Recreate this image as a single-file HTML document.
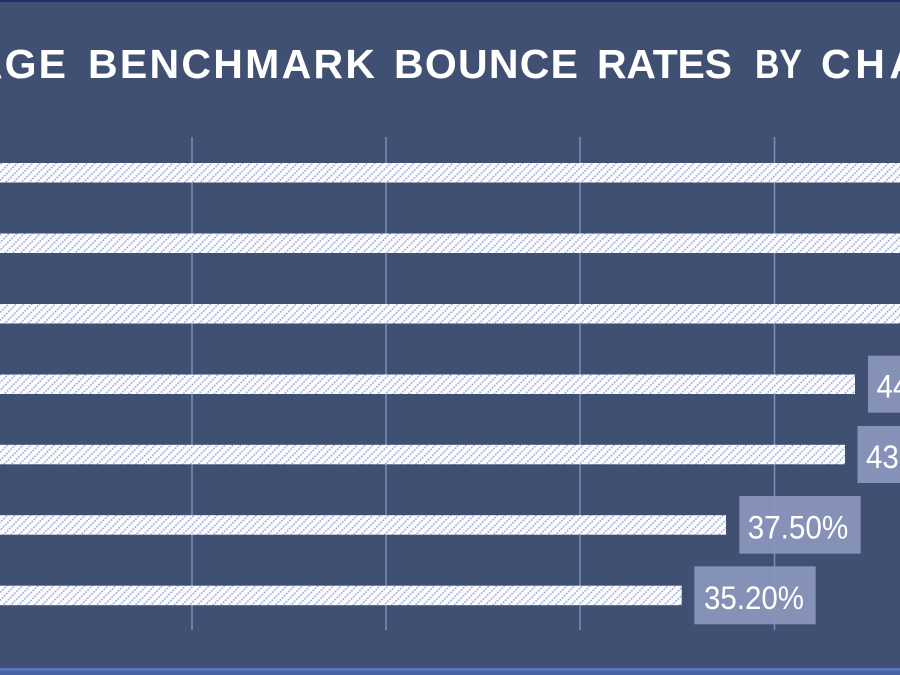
<!DOCTYPE html>
<html>
<head>
<meta charset="utf-8">
<style>
  html, body { margin:0; padding:0; background:#3f5073; }
  body { width:900px; height:675px; overflow:hidden; }
  svg { display:block; }
</style>
</head>
<body>
<svg width="900" height="675" viewBox="0 0 900 675" xmlns="http://www.w3.org/2000/svg">
  <defs>
    <pattern id="hatch" patternUnits="userSpaceOnUse" width="5.5" height="6" patternTransform="rotate(45)">
      <rect width="5.5" height="6" fill="#fbfcff"/>
      <line x1="1" y1="0" x2="1" y2="6" stroke="#9aa3cb" stroke-width="1.5" stroke-dasharray="1.8 1.2"/>
    </pattern>
  </defs>
  <rect x="0" y="0" width="900" height="675" fill="#3f5073"/>
  <rect x="0" y="0" width="900" height="2" fill="#1f2d68"/>
  <rect x="0" y="668" width="900" height="3" fill="#5a76b8"/>
  <rect x="0" y="671" width="900" height="4" fill="#4763a6"/>

  <!-- title -->
  <g font-family="'Liberation Sans', sans-serif" font-weight="bold" font-size="41" fill="#ffffff">
    <text x="-27" y="78" textLength="93" lengthAdjust="spacing">AGE</text>
    <text x="88" y="78" textLength="287" lengthAdjust="spacing">BENCHMARK</text>
    <text x="394" y="78" textLength="184" lengthAdjust="spacing">BOUNCE</text>
    <text x="597" y="78" textLength="135" lengthAdjust="spacing">RATES</text>
    <text x="755" y="78" textLength="47" lengthAdjust="spacingAndGlyphs">BY</text>
    <text x="821" y="78" textLength="98" lengthAdjust="spacing">CHA</text>
  </g>

  <!-- gridlines -->
  <g stroke="#7d8db4" stroke-width="1.5">
    <line x1="192" y1="137" x2="192" y2="630"/>
    <line x1="386" y1="137" x2="386" y2="630"/>
    <line x1="580" y1="137" x2="580" y2="630"/>
    <line x1="774.5" y1="137" x2="774.5" y2="630"/>
  </g>

  <!-- bars -->
  <g fill="url(#hatch)">
    <rect x="-5" y="163" width="920" height="19.5"/>
    <rect x="-5" y="233.5" width="920" height="19.5"/>
    <rect x="-5" y="304" width="920" height="19.5"/>
    <rect x="-5" y="374.5" width="860" height="19.5"/>
    <rect x="-5" y="444.8" width="850" height="19.5"/>
    <rect x="-5" y="515.2" width="731" height="19.5"/>
    <rect x="-5" y="585.7" width="686.7" height="19.5"/>
  </g>

  <!-- labels -->
  <g fill="#8995bb" fill-opacity="0.95">
    <rect x="868" y="355.7" width="121" height="57"/>
    <rect x="857.5" y="426" width="121" height="57"/>
    <rect x="739.3" y="496" width="121.4" height="57.7"/>
    <rect x="694.3" y="566.3" width="121.4" height="58"/>
  </g>
  <g font-family="'Liberation Sans', sans-serif" font-size="32" fill="#ffffff">
    <text x="876.5" y="397.5" textLength="100" lengthAdjust="spacingAndGlyphs">44.20%</text>
    <text x="866" y="468" textLength="100" lengthAdjust="spacingAndGlyphs">43.70%</text>
    <text x="747.7" y="538.3" textLength="100.6" lengthAdjust="spacingAndGlyphs">37.50%</text>
    <text x="704" y="608.8" textLength="100" lengthAdjust="spacingAndGlyphs">35.20%</text>
  </g>
</svg>
</body>
</html>
